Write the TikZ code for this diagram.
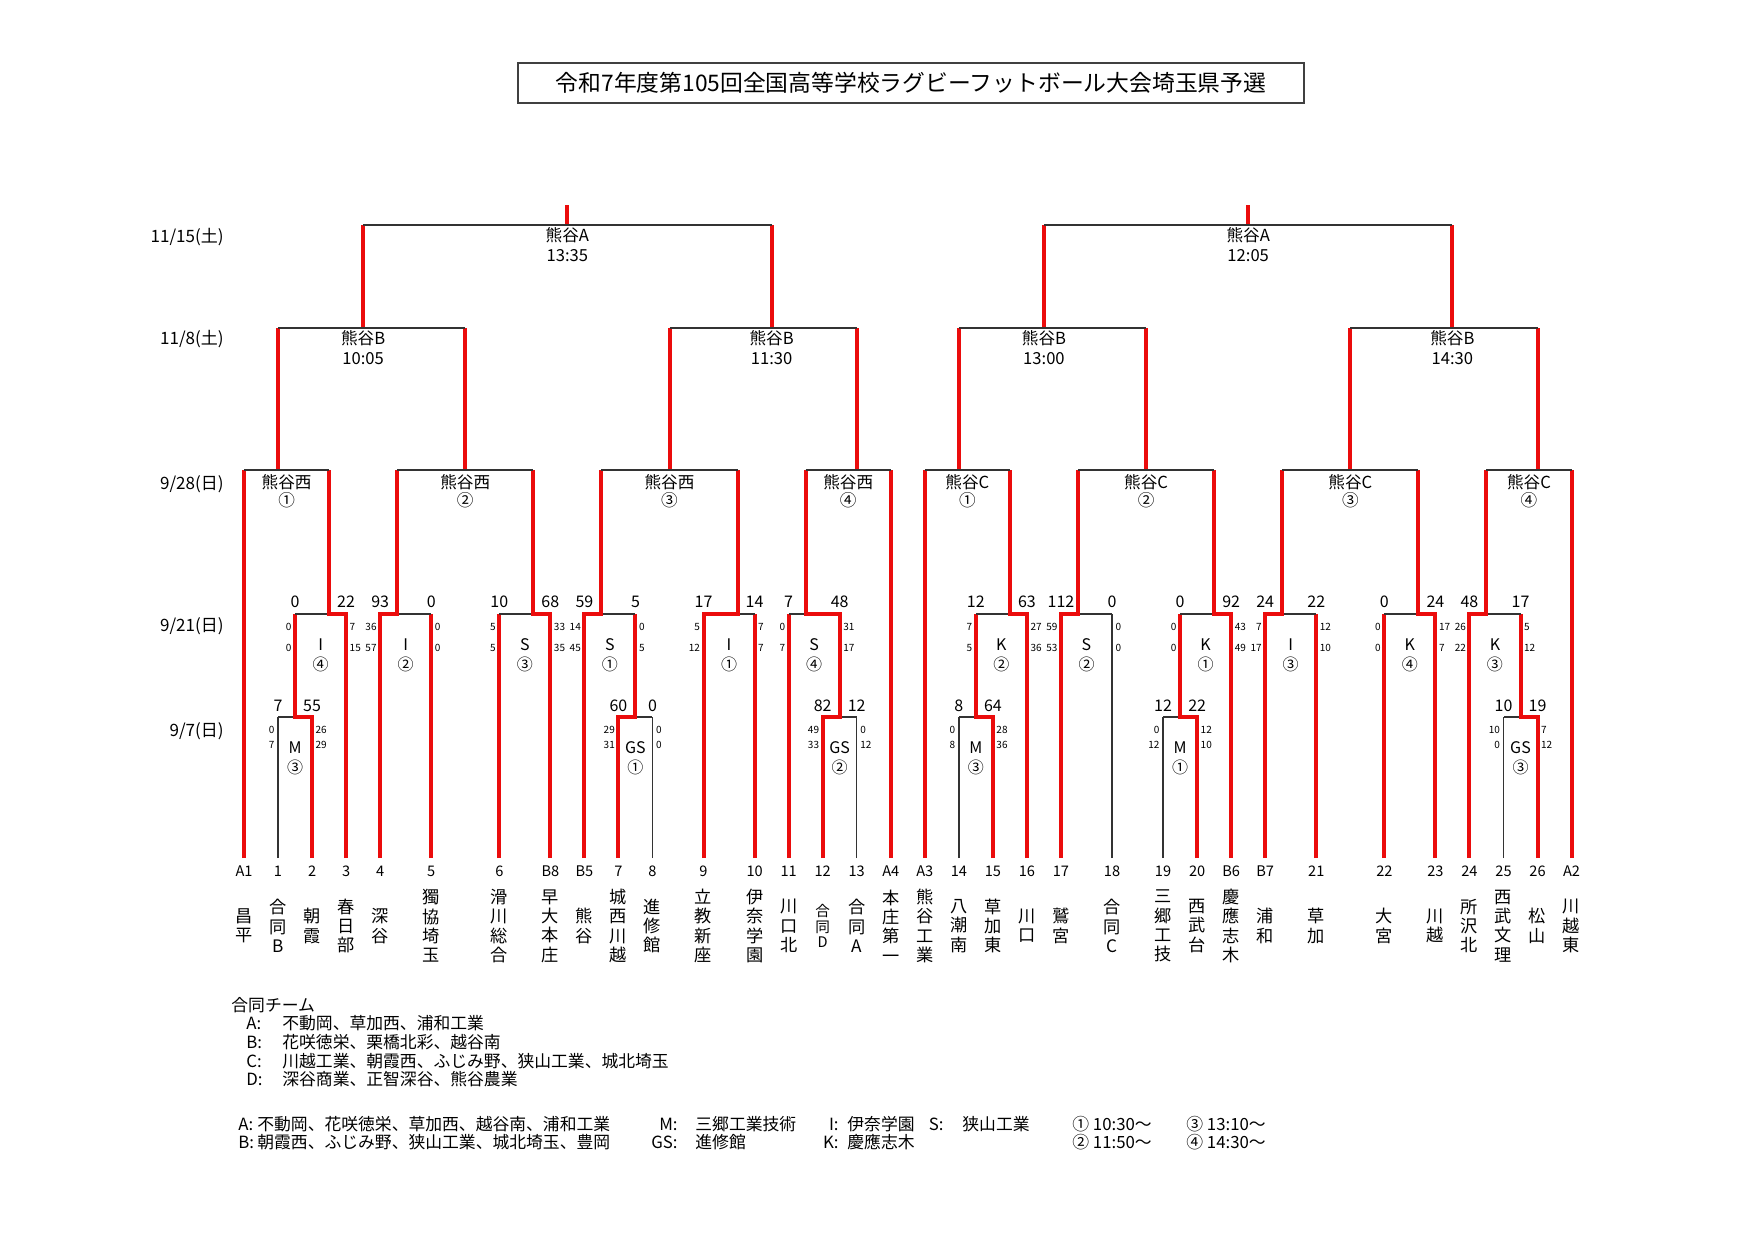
\documentclass[tikz,border=0pt]{standalone}
\usepackage{fontspec}
\setmainfont{Noto Sans CJK JP}
\definecolor{rugbyred}{RGB}{235,12,12}
\newcommand{\fsz}[2]{\fontsize{#1}{#2}\selectfont}
\tikzset{
  win/.style={draw=rugbyred, line width=2pt},
  lose/.style={draw=black!80, line width=0.7pt},
  titlebox/.style={draw=black!75, line width=0.8pt, minimum width=393pt, minimum height=20pt, font=\fsz{11.4}{13}},
  day/.style={anchor=east, inner sep=0, font=\fsz{8.5}{10}},
  entry/.style={inner sep=0, font=\fsz{7.3}{8}},
  team/.style={align=center, inner sep=0, font=\fsz{8.6}{9.65}},
  teamsm/.style={align=center, inner sep=0, font=\fsz{7.3}{7.9}},
  score/.style={inner sep=0, font=\fsz{8}{9}},
  pts/.style={inner sep=0, font=\fsz{5}{6}},
  ptsl/.style={pts, anchor=east, xshift=-1.6pt},
  ptsr/.style={pts, anchor=west, xshift=1.6pt},
  matchtag/.style={inner sep=0, font=\fsz{8}{9}},
  venue/.style={align=center, inner sep=0, font=\fsz{8.3}{9}},
  legend/.style={anchor=west, inner sep=0, font=\fsz{8.4}{10}},
  tag/.style={legend, anchor=east},
}
\begin{document}
\begin{tikzpicture}[x=0.5pt, y=-0.5pt]
\useasboundingbox (0,0) rectangle (1755,1241);

\node[titlebox] (title) at (911,83) {令和7年度第105回全国高等学校ラグビーフットボール大会埼玉県予選};

% dates
\node[day] (d1115) at (224,237) {11/15(土)};
\node[day] (d118)  at (224,339) {11/8(土)};
\node[day] (d928)  at (224,484) {9/28(日)};
\node[day] (d921)  at (224,626) {9/21(日)};
\node[day] (d97)   at (224,731) {9/7(日)};

\begin{scope}[xshift=122pt, x=17.02pt]
  % entries
  \foreach \en/\k/\ytop/\col/\st/\tname [count=\i] in {
      A1/0/470/win/team/{昌\\平}, 1/1/717/lose/team/{合\\同\\B},
      2/2/717/win/team/{朝\\霞}, 3/3/614/win/team/{春\\日\\部},
      4/4/614/win/team/{深\\谷}, 5/5.5/614/win/team/{獨\\協\\埼\\玉},
      6/7.5/614/win/team/{滑\\川\\総\\合}, B8/9/614/win/team/{早\\大\\本\\庄},
      B5/10/614/win/team/{熊\\谷}, 7/11/717/win/team/{城\\西\\川\\越},
      8/12/717/lose/team/{進\\修\\館}, 9/13.5/614/win/team/{立\\教\\新\\座},
      10/15/614/win/team/{伊\\奈\\学\\園}, 11/16/614/win/team/{川\\口\\北},
      12/17/717/win/teamsm/{合\\同\\D}, 13/18/717/lose/team/{合\\同\\A},
      A4/19/470/win/team/{本\\庄\\第\\一}, A3/20/470/win/team/{熊\\谷\\工\\業},
      14/21/717/lose/team/{八\\潮\\南}, 15/22/717/win/team/{草\\加\\東},
      16/23/614/win/team/{川\\口}, 17/24/614/win/team/{鷲\\宮},
      18/25.5/614/lose/team/{合\\同\\C}, 19/27/717/lose/team/{三\\郷\\工\\技},
      20/28/717/win/team/{西\\武\\台}, B6/29/614/win/team/{慶\\應\\志\\木},
      B7/30/614/win/team/{浦\\和}, 21/31.5/614/win/team/{草\\加},
      22/33.5/614/win/team/{大\\宮}, 23/35/614/win/team/{川\\越},
      24/36/614/win/team/{所\\沢\\北}, 25/37/717/lose/team/{西\\武\\文\\理},
      26/38/717/win/team/{松\\山}, A2/39/470/win/team/{川\\越\\東}}
  {
    \coordinate (b\i) at (\k,858);
    \draw[\col] (b\i) -- ++(0,{\ytop-858});
    \node[entry] (e\i) at (\k,871) {\en};
    \node[\st] (t\i) at (\k,926) {\tname};
  }

  % 9/7
  \foreach \lk/\rk/\jk/\wk/\ls/\rs/\la/\lb/\ra/\rb/\lab/\num [count=\i] in {
      1/2/1.5/2/7/55/0/7/26/29/M/③, 11/12/11.5/11/60/0/29/31/0/0/GS/①,
      17/18/17.5/17/82/12/49/33/0/12/GS/②, 21/22/21.5/22/8/64/0/8/28/36/M/③,
      27/28/27.5/28/12/22/0/12/12/10/M/①, 37/38/37.5/38/10/19/10/0/7/12/GS/③}
  {
    \pgfmathsetmacro\ok{\lk+\rk-\wk}
    \draw[lose] (\jk,717) -- (\ok,717);
    \draw[win] (\wk,727) -- (\wk,717) -- (\jk,717) -- (\jk,614);
    \node[score] (fa\i) at (\lk,706) {\ls};
    \node[score] (fb\i) at (\rk,706) {\rs};
    \node[ptsl] (fc\i) at (\lk,730) {\la};
    \node[ptsl] (fd\i) at (\lk,745) {\lb};
    \node[ptsr] (fe\i) at (\rk,730) {\ra};
    \node[ptsr] (ff\i) at (\rk,745) {\rb};
    \node[matchtag] (fg\i) at ({(\lk+\rk)/2},748) {\lab};
    \node[matchtag] (fh\i) at ({(\lk+\rk)/2},767) {\num};
  }

  % 9/21
  \foreach \lk/\rk/\jk/\wk/\ls/\rs/\la/\lb/\ra/\rb/\lab/\num [count=\i] in {
      1.5/3/2.5/3/0/22/0/0/7/15/I/④, 4/5.5/4.5/4/93/0/36/57/0/0/I/②,
      7.5/9/8.5/9/10/68/5/5/33/35/S/③, 10/11.5/10.5/10/59/5/14/45/0/5/S/①,
      13.5/15/14.5/13.5/17/14/5/12/7/7/I/①, 16/17.5/16.5/17.5/7/48/0/7/31/17/S/④,
      21.5/23/22.5/23/12/63/7/5/27/36/K/②, 24/25.5/24.5/24/112/0/59/53/0/0/S/②,
      27.5/29/28.5/29/0/92/0/0/43/49/K/①, 30/31.5/30.5/30/24/22/7/17/12/10/I/③,
      33.5/35/34.5/35/0/24/0/0/17/7/K/④, 36/37.5/36.5/36/48/17/26/22/5/12/K/③}
  {
    \pgfmathsetmacro\ok{\lk+\rk-\wk}
    \draw[lose] (\jk,614) -- (\ok,614);
    \draw[win] (\wk,624) -- (\wk,614) -- (\jk,614) -- (\jk,470);
    \node[score] (sa\i) at (\lk,602) {\ls};
    \node[score] (sb\i) at (\rk,602) {\rs};
    \node[ptsl] (sc\i) at (\lk,627) {\la};
    \node[ptsl] (sd\i) at (\lk,648) {\lb};
    \node[ptsr] (se\i) at (\rk,627) {\ra};
    \node[ptsr] (sf\i) at (\rk,648) {\rb};
    \node[matchtag] (sg\i) at ({(\lk+\rk)/2},645) {\lab};
    \node[matchtag] (sh\i) at ({(\lk+\rk)/2},664) {\num};
  }

  % 9/28
  \foreach \lk/\rk/\uk/\place/\num [count=\i] in {
      0/2.5/1/熊谷西/①, 4.5/8.5/6.5/熊谷西/②, 10.5/14.5/12.5/熊谷西/③,
      16.5/19/18/熊谷西/④, 20/22.5/21/熊谷C/①, 24.5/28.5/26.5/熊谷C/②,
      30.5/34.5/32.5/熊谷C/③, 36.5/39/38/熊谷C/④}
  {
    \draw[win] (\uk,470) -- (\uk,328);
    \draw[lose] (\lk,470) -- (\rk,470);
    \node[venue] (q\i) at ({(\lk+\rk)/2},491) {\place\\\num};
  }

  % 11/8
  \foreach \lk/\rk/\uk/\time [count=\i] in {
      1/6.5/3.5/10:05, 12.5/18/15.5/11:30, 21/26.5/23.5/13:00, 32.5/38/35.5/14:30}
  {
    \draw[win] (\uk,328) -- (\uk,225);
    \draw[lose] (\lk,328) -- (\rk,328);
    \node[venue, font=\fsz{8.3}{10}] (h\i) at (\uk,348) {熊谷B\\\time};
  }

  % 11/15
  \foreach \lk/\rk/\uk/\time [count=\i] in {3.5/15.5/9.5/13:35, 23.5/35.5/29.5/12:05}
  {
    \draw[win] (\uk,225) -- (\uk,205);
    \draw[lose] (\lk,225) -- (\rk,225);
    \node[venue, font=\fsz{8.3}{10}] (g\i) at (\uk,245) {熊谷A\\\time};
  }
\end{scope}

% joint teams
\node[legend] (jt) at (231,1005) {合同チーム};
\foreach \tg/\lst/\yy [count=\i] in {
    A/{不動岡、草加西、浦和工業}/1023, B/{花咲徳栄、栗橋北彩、越谷南}/1042,
    C/{川越工業、朝霞西、ふじみ野、狭山工業、城北埼玉}/1061, D/{深谷商業、正智深谷、熊谷農業}/1079}
  \node[legend] (jt\i) at (246,\yy) {\makebox[18pt][l]{\tg:}\lst};

% venues and times
\node[legend] (lgA) at (238,1124) {\makebox[9.5pt][l]{A:}不動岡、花咲徳栄、草加西、越谷南、浦和工業};
\node[legend] (lgB) at (238,1142) {\makebox[9.5pt][l]{B:}朝霞西、ふじみ野、狭山工業、城北埼玉、豊岡};
\node[tag] (tgM) at (678,1124) {M:};
\node[legend] (lgM) at (695,1124) {三郷工業技術};
\node[tag] (tgG) at (678,1142) {GS:};
\node[legend] (lgG) at (695,1142) {進修館};
\node[tag] (tgI) at (839,1124) {I:};
\node[legend] (lgI) at (847,1124) {伊奈学園};
\node[tag] (tgK) at (839,1142) {K:};
\node[legend] (lgK) at (847,1142) {慶應志木};
\node[tag] (tgS) at (944,1124) {S:};
\node[legend] (lgS) at (962,1124) {狭山工業};
\node[legend] (lg1) at (1072,1124) {① 10:30〜};
\node[legend] (lg3) at (1186,1124) {③ 13:10〜};
\node[legend] (lg2) at (1072,1142) {② 11:50〜};
\node[legend] (lg4) at (1186,1142) {④ 14:30〜};
\end{tikzpicture}
\end{document}
